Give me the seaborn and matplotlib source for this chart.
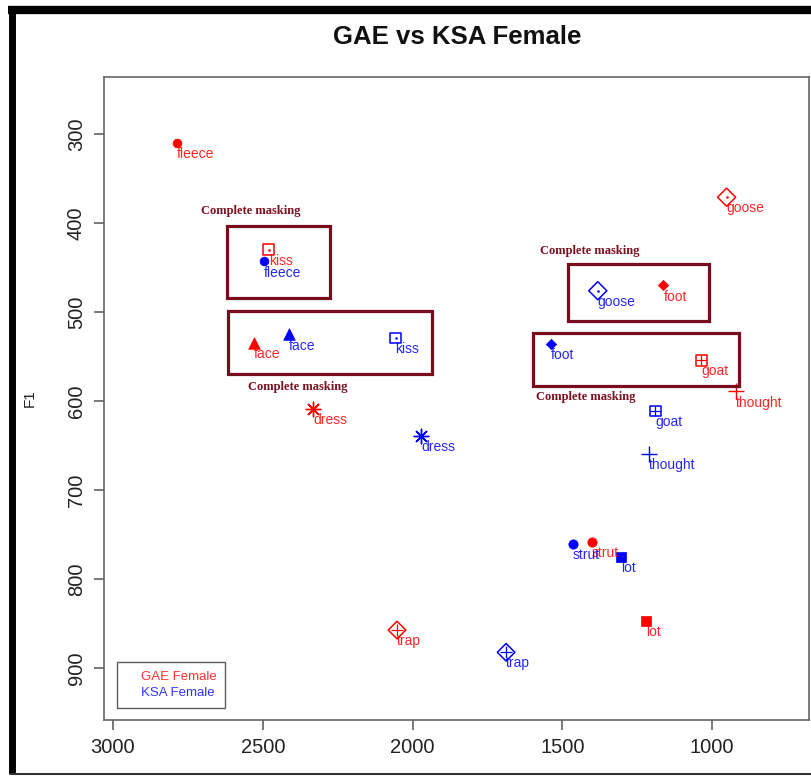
import matplotlib
matplotlib.use("Agg")
import matplotlib.pyplot as plt
from matplotlib.lines import Line2D
from matplotlib.patches import Rectangle
import pandas as pd
import seaborn as sns

# vowel data (F2 on x, F1 on y, Hz)
vowels = ["fleece", "kiss", "face", "dress", "trap", "strut", "lot",
          "goat", "thought", "foot", "goose"]
gae_f2 = [2788, 2480, 2529, 2332, 2052, 1401, 1221, 1037, 921, 1163, 952]
gae_f1 = [310, 430, 535, 609, 857, 758, 847, 554, 589, 470, 371]
ksa_f2 = [2497, 2057, 2412, 1971, 1688, 1466, 1304, 1190, 1212, 1538, 1382]
ksa_f1 = [443, 529, 525, 639, 882, 760, 775, 611, 659, 536, 476]

groups = ["GAE Female", "KSA Female"]

# annotation boxes (F2 left, F2 right, F1 top, F1 bottom) and caption anchors
box_f2 = [(2621, 2277), (2616, 1935), (1480, 1012), (1599, 910)]
box_f1 = [(403, 484), (499, 570), (446, 510), (523, 583)]
note_f2 = [2540, 2383, 1410, 1423]
note_f1 = [386, 584, 431, 595]

gae = pd.DataFrame({"vowel": vowels, "F2": gae_f2, "F1": gae_f1, "group": groups[0]})
ksa = pd.DataFrame({"vowel": vowels, "F2": ksa_f2, "F1": ksa_f1, "group": groups[1]})
df = pd.concat([gae, ksa], ignore_index=True)

colors = {groups[0]: "#ff0000", groups[1]: "#0000ff"}

# marker, filled, size, inner marker (R-style symbols)
marker_spec = {
    "fleece": ("o", True, 40, None),
    "kiss": ("s", False, 60, "."),
    "face": ("^", True, 70, None),
    "dress": ((8, 2, 0), None, 110, None),
    "trap": ("D", False, 80, "+"),
    "strut": ("o", True, 45, None),
    "lot": ("s", True, 55, None),
    "goat": ("s", False, 60, "+"),
    "thought": ("+", None, 120, None),
    "foot": ("D", True, 28, None),
    "goose": ("D", False, 85, "."),
}

sns.set_style("white")
plt.rcParams["font.family"] = ["Liberation Sans", "DejaVu Sans"]

fig = plt.figure(figsize=(8.12, 7.76), dpi=100)
ax = fig.add_axes([104 / 812, 1 - 720 / 776, 705 / 812, 643 / 776])

for g in groups:
    sub = df[df["group"] == g]
    col = colors[g]
    for _, row in sub.iterrows():
        mk, filled, sz, inner = marker_spec[row["vowel"]]
        one = sub[sub["vowel"] == row["vowel"]]
        if filled is None:
            sns.scatterplot(data=one, x="F2", y="F1", marker=mk, s=sz,
                            color=col, linewidth=1.0, ax=ax, legend=False)
        elif filled:
            sns.scatterplot(data=one, x="F2", y="F1", marker=mk, s=sz,
                            color=col, edgecolor=col, linewidth=0.5, ax=ax,
                            legend=False)
        else:
            sns.scatterplot(data=one, x="F2", y="F1", marker=mk, s=sz,
                            facecolor="none", edgecolor=col, linewidth=1.1,
                            ax=ax, legend=False)
        if inner == "+":
            sns.scatterplot(data=one, x="F2", y="F1", marker="+", s=sz * 0.9,
                            color=col, linewidth=0.9, ax=ax, legend=False)
        elif inner == ".":
            sns.scatterplot(data=one, x="F2", y="F1", marker="o", s=3,
                            color=col, edgecolor=col, ax=ax, legend=False)
        ax.annotate(row["vowel"], (row["F2"], row["F1"]), xytext=(0, -3),
                    textcoords="offset points", ha="left", va="top",
                    fontsize=10, color=col, alpha=0.85)

# masking boxes
for (x0, x1), (y0, y1) in zip(box_f2, box_f1):
    ax.add_patch(Rectangle((x0, y0), x1 - x0, y1 - y0, fill=False,
                           edgecolor="#760c1e", linewidth=2.3, zorder=5))
for x, y in zip(note_f2, note_f1):
    ax.text(x, y, "Complete masking", ha="center", va="center",
            fontsize=9, fontweight="bold", color="#7a1020",
            family=["Liberation Serif", "DejaVu Serif"])

ax.set_xlim(3030, 677)
ax.set_ylim(958, 236)
ax.set_xticks([3000, 2500, 2000, 1500, 1000])
ax.set_yticks([300, 400, 500, 600, 700, 800, 900])
ax.tick_params(axis="both", direction="out", length=7, width=1.1,
               color="#555555", labelsize=14.5, labelcolor="#222222", pad=6,
               bottom=True, left=True)
plt.setp(ax.get_yticklabels(), rotation=90, va="center")
ax.set_xlabel("")
ax.set_ylabel("F1", fontsize=11, color="#222222", labelpad=22)
for sp in ax.spines.values():
    sp.set_color("#666666")
    sp.set_linewidth(1.2)

handles = [Line2D([], [], linestyle="none") for _ in groups]
leg = ax.legend(handles, groups, loc="lower left",
                bbox_to_anchor=(0.018, 0.019), handlelength=1.2,
                handletextpad=0, fontsize=9.5, frameon=True, fancybox=False,
                borderpad=0.65, labelspacing=0.3, borderaxespad=0)
leg.get_frame().set_edgecolor("#333333")
leg.get_frame().set_linewidth(1.0)
for t, g in zip(leg.get_texts(), groups):
    t.set_color(colors[g])
    t.set_alpha(0.8)

fig.text(457 / 812, 1 - 37 / 776, "GAE vs KSA Female", ha="center",
         va="center", fontsize=18.5, fontweight="bold", color="#111111")

# black frame of the screenshot (left, top, bottom)
fig.add_artist(Line2D([12 / 812, 12 / 812], [1 - 6 / 776, 1 - 774 / 776],
                      transform=fig.transFigure, color="black", linewidth=5,
                      solid_capstyle="butt"))
fig.add_artist(Line2D([8 / 812, 1.0], [1 - 10 / 776, 1 - 10 / 776],
                      transform=fig.transFigure, color="black", linewidth=6,
                      solid_capstyle="butt"))
fig.add_artist(Line2D([10 / 812, 1.0], [1 - 774 / 776, 1 - 774 / 776],
                      transform=fig.transFigure, color="#333333", linewidth=1.5,
                      solid_capstyle="butt"))

fig.savefig("out.png", dpi=100)
